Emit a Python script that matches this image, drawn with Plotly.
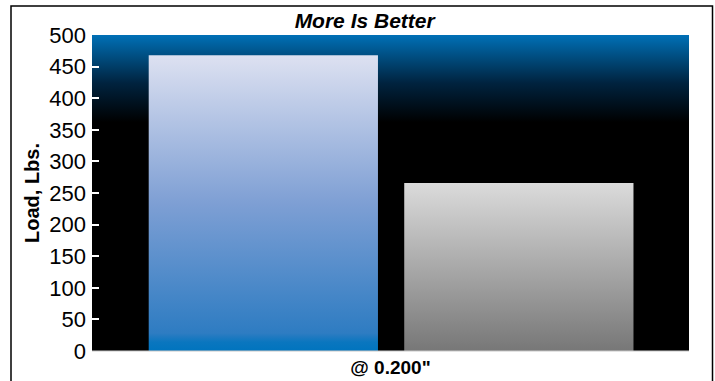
import plotly.graph_objects as go

# Data
categories = ['@ 0.200"']
series_names = ["Product A", "Product B"]
load_values = [468, 266]
y_ticks = [0, 50, 100, 150, 200, 250, 300, 350, 400, 450, 500]

# Bar placement on a 0..1 x scale and gradient styling
bar_centers = [0.287, 0.715]
bar_width = 0.384
bar_scales = [
    [[0, "#0074be"], [0.03, "#0a76bf"], [0.06, "#2e7cc2"], [0.5, "#7e9fd4"], [1, "#dde1f1"]],
    [[0, "#777777"], [1, "#dbdbdb"]],
]

FONT = "Liberation Sans, Arial, Helvetica, sans-serif"

fig = go.Figure()

# Plot background: blue at the top fading to black
fig.add_trace(go.Scatter(
    x=[0, 1, 1, 0, 0], y=[0, 0, 500, 500, 0],
    mode="lines", line=dict(width=0), fill="toself",
    fillgradient=dict(type="vertical", start=362, stop=500,
                      colorscale=[[0, "#000000"], [0.45, "#00233f"], [1, "#0070b6"]]),
    hoverinfo="skip", showlegend=False,
))

# Bars as gradient-filled rectangles from the data values
for name, c, v, cs in zip(series_names, bar_centers, load_values, bar_scales):
    x0, x1 = c - bar_width / 2, c + bar_width / 2
    fig.add_trace(go.Scatter(
        x=[x0, x1, x1, x0, x0], y=[0, 0, v, v, 0],
        mode="lines", line=dict(width=0), fill="toself",
        fillgradient=dict(type="vertical", start=0, stop=v, colorscale=cs),
        name=name, showlegend=False,
    ))

fig.update_layout(
    width=715, height=381,
    margin=dict(l=92, r=26, t=35, b=30),
    paper_bgcolor="white", plot_bgcolor="black",
    title=dict(text="<b><i>More Is Better</i></b>", x=0.51, xanchor="center",
               y=0.945, yanchor="middle",
               font=dict(family=FONT, size=21, color="black")),
    xaxis=dict(range=[0, 1], tickvals=[0.5], ticktext=categories,
               tickfont=dict(family=FONT, size=19, color="black", weight="bold"),
               showgrid=False, zeroline=False, ticks="", showline=False,
               fixedrange=True, ticklabelstandoff=3, automargin=False),
    yaxis=dict(range=[0, 500], tickvals=y_ticks,
               tickfont=dict(family=FONT, size=22, color="black"),
               title=dict(text="<b>Load, Lbs.</b>", standoff=4,
                          font=dict(family=FONT, size=20, color="black")),
               showgrid=False, zeroline=False, showline=False,
               ticks="inside", ticklen=7, tickwidth=2, tickcolor="white",
               ticklabelstandoff=5, automargin=False),
    shapes=[
        # thin light baseline under the plot
        dict(type="line", xref="paper", yref="paper", x0=0, x1=1, y0=0, y1=0,
             line=dict(color="#c8c8c8", width=1)),
        # outer frame
        dict(type="rect", xref="paper", yref="paper",
             x0=(11 - 92) / 597, x1=(712.5 - 92) / 597,
             y0=-0.2, y1=(351 - 6) / 316,
             line=dict(color="black", width=1.5), fillcolor="rgba(0,0,0,0)",
             layer="below"),
    ],
)

fig.write_html("out.html")
